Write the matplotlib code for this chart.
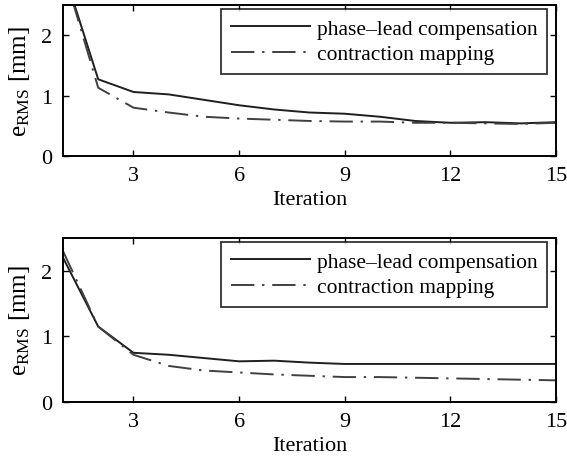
import matplotlib
matplotlib.use('Agg')
import matplotlib.pyplot as plt

plt.rcParams['font.family'] = ['Liberation Serif', 'DejaVu Serif']
plt.rcParams['mathtext.fontset'] = 'custom'
plt.rcParams['mathtext.rm'] = 'Liberation Serif'
plt.rcParams['mathtext.it'] = 'Liberation Serif:italic'

iterations = list(range(1, 16))

# top panel
lead_top = [3.1, 1.27, 1.06, 1.02, 0.93, 0.84, 0.77, 0.72, 0.70, 0.65, 0.58, 0.55, 0.56, 0.54, 0.56]
cm_top = [3.1, 1.13, 0.80, 0.72, 0.65, 0.62, 0.60, 0.58, 0.57, 0.57, 0.55, 0.55, 0.54, 0.53, 0.55]

# bottom panel
lead_bot = [2.2, 1.15, 0.75, 0.72, 0.67, 0.62, 0.63, 0.60, 0.58, 0.58, 0.58, 0.58, 0.58, 0.58, 0.58]
cm_bot = [2.3, 1.15, 0.72, 0.55, 0.48, 0.45, 0.42, 0.40, 0.38, 0.38, 0.37, 0.36, 0.35, 0.34, 0.33]

xticks = [3, 6, 9, 12, 15]
yticks = [0, 1, 2]

fig = plt.figure(figsize=(5.67, 4.64), dpi=100)
ax1 = fig.add_axes([63 / 567, 1 - 157 / 464, 493 / 567, 151 / 464])
ax2 = fig.add_axes([63 / 567, 1 - 403 / 464, 493 / 567, 164 / 464])

for ax, lead, cm, legy in [(ax1, lead_top, cm_top, 0.974), (ax2, lead_bot, cm_bot, 0.976)]:
    ax.plot(iterations, lead, color='0.12', lw=1.4, label='phase\u2013lead compensation')
    ax.plot(iterations, cm, color='0.25', lw=1.4, ls=(0, (12, 4, 1.2, 4)), label='contraction mapping')
    ax.set_xlim(1, 15)
    ax.set_ylim(0, 2.5)
    ax.set_xticks(xticks)
    ax.set_yticks(yticks)
    ax.tick_params(direction='in', top=True, right=True, labelsize=16, length=4, width=1, pad=7)
    ax.tick_params(axis='y', pad=8)
    for sp in ax.spines.values():
        sp.set_linewidth(1.4)
    ax.set_xlabel('Iteration', fontsize=16, labelpad=4)
    ax.set_ylabel(r'e$_{\mathrm{RMS}}$ [mm]', fontsize=18, labelpad=6)
    leg = ax.legend(loc='upper right', bbox_to_anchor=(0.982, legy), fontsize=15.5,
                    frameon=True, fancybox=False, edgecolor='black',
                    handlelength=3.7, handletextpad=0.3, borderpad=0.45,
                    labelspacing=0.25, borderaxespad=0)
    leg.get_frame().set_linewidth(1.3)

fig.savefig('out.png', dpi=100)
